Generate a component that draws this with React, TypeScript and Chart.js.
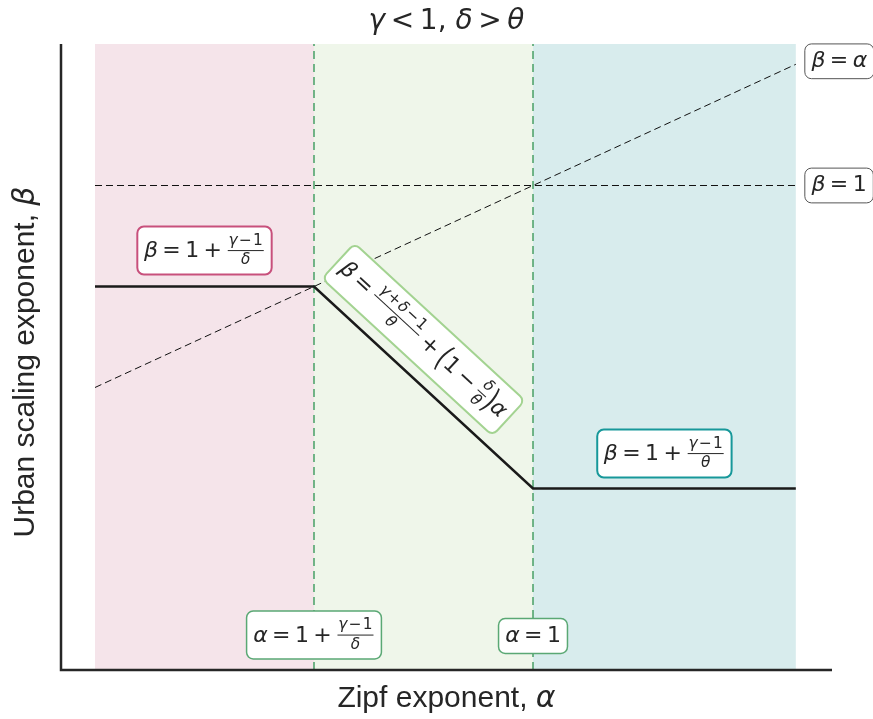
import { useEffect, useRef } from 'react';
import { Chart, registerables } from 'chart.js';

Chart.register(...registerables);

// Piecewise urban scaling exponent beta as a function of the Zipf exponent alpha
const alphaKnots = [0, 0.5, 1, 1.6];
const betaPiecewise = [0.5, 0.5, -0.5, -0.5];

// Reference lines: beta = alpha and beta = 1
const identityAlpha = [0, 1.6];
const identityBeta = [0, 1.6];
const unityAlpha = [0, 1.6];
const unityBeta = [1, 1];

// Regime boundaries (alpha = 1 + (gamma-1)/delta and alpha = 1)
const thresholdAlphas = [0.5, 1];
const regionEdges = [0, 0.5, 1, 1.6];
const regionColors = ['#f5e4ea', '#eff6ea', '#d8eced'];

const X_MIN = -0.0776;
const X_MAX = 1.6826;
const Y_MIN = -1.3985;
const Y_MAX = 1.7005;

const INK = '#262626';
const MATH = '"DejaVu Sans"';
const SANS = '"Liberation Sans", Arial, sans-serif';

type Tok =
  | { k: 't'; s: string; it?: boolean }
  | { k: 'op'; s: string }
  | { k: 'frac'; n: Tok[]; d: Tok[] }
  | { k: 'paren'; s: string; scale: number };

const T = (s: string, it = false): Tok => ({ k: 't', s, it });
const OP = (s: string): Tok => ({ k: 'op', s });
const FR = (n: Tok[], d: Tok[]): Tok => ({ k: 'frac', n, d });
const PA = (s: string, scale: number): Tok => ({ k: 'paren', s, scale });

const mfont = (size: number, it: boolean) => `${it ? 'italic ' : ''}${size}px ${MATH}`;

// Lays out (and optionally paints) a tiny subset of math: runs, operators, fractions, tall parens
function mathRun(
  ctx: CanvasRenderingContext2D,
  toks: Tok[],
  size: number,
  x0: number,
  base: number,
  draw: boolean,
  script = false
): { w: number; asc: number; desc: number } {
  let x = x0;
  let asc = 0.76 * size;
  let desc = 0.22 * size;
  for (const t of toks) {
    if (t.k === 't') {
      ctx.font = mfont(size, !!t.it);
      const w = ctx.measureText(t.s).width;
      if (draw) ctx.fillText(t.s, x, base);
      x += w;
    } else if (t.k === 'op') {
      const sp = (script ? 0.08 : 0.2) * size;
      ctx.font = mfont(size, false);
      const w = ctx.measureText(t.s).width;
      if (draw) ctx.fillText(t.s, x + sp, base);
      x += w + 2 * sp;
    } else if (t.k === 'frac') {
      const s2 = size * 0.7;
      const n = mathRun(ctx, t.n, s2, 0, 0, false, true);
      const d = mathRun(ctx, t.d, s2, 0, 0, false, true);
      const pad = 0.06 * size;
      const bw = Math.max(n.w, d.w) + 0.08 * size;
      const barY = base - 0.3 * size;
      const th = Math.max(1, 0.045 * size);
      const nb = barY - th / 2 - 0.08 * size - n.desc;
      const db = barY + th / 2 + 0.1 * size + d.asc * 0.95;
      if (draw) {
        mathRun(ctx, t.n, s2, x + pad + (bw - n.w) / 2, nb, true, true);
        mathRun(ctx, t.d, s2, x + pad + (bw - d.w) / 2, db, true, true);
        ctx.fillRect(x + pad, barY - th / 2, bw, th);
      }
      asc = Math.max(asc, base - nb + n.asc);
      desc = Math.max(desc, db + d.desc - base);
      x += bw + 2 * pad;
    } else {
      ctx.font = mfont(size, false);
      const w = ctx.measureText(t.s).width;
      const axis = 0.3 * size;
      if (draw) {
        ctx.save();
        ctx.translate(x, base - axis);
        ctx.scale(1, t.scale);
        ctx.fillText(t.s, 0, axis);
        ctx.restore();
      }
      asc = Math.max(asc, axis + 0.48 * size * t.scale);
      desc = Math.max(desc, 0.48 * size * t.scale - axis);
      x += w;
    }
  }
  return { w: x - x0, asc, desc };
}

function roundRectPath(ctx: CanvasRenderingContext2D, x: number, y: number, w: number, h: number, r: number) {
  ctx.beginPath();
  ctx.moveTo(x + r, y);
  ctx.arcTo(x + w, y, x + w, y + h, r);
  ctx.arcTo(x + w, y + h, x, y + h, r);
  ctx.arcTo(x, y + h, x, y, r);
  ctx.arcTo(x, y, x + w, y, r);
  ctx.closePath();
}

function mathBox(
  ctx: CanvasRenderingContext2D,
  toks: Tok[],
  size: number,
  ax: number,
  cy: number,
  opts: { angle?: number; edge: string; lw: number; leftAligned?: boolean }
) {
  const m = mathRun(ctx, toks, size, 0, 0, false);
  const pad = 0.3 * size;
  const w = m.w + 2 * pad;
  const h = m.asc + m.desc + 2 * pad;
  const cx = opts.leftAligned ? ax + w / 2 : ax;
  ctx.save();
  ctx.translate(cx, cy);
  if (opts.angle) ctx.rotate(opts.angle);
  roundRectPath(ctx, -w / 2, -h / 2, w, h, pad);
  ctx.fillStyle = '#ffffff';
  ctx.fill();
  ctx.lineWidth = opts.lw;
  ctx.strokeStyle = opts.edge;
  ctx.stroke();
  ctx.fillStyle = INK;
  ctx.textBaseline = 'alphabetic';
  ctx.textAlign = 'left';
  mathRun(ctx, toks, size, -m.w / 2, (m.asc - m.desc) / 2, true);
  ctx.restore();
}

function mixedText(
  ctx: CanvasRenderingContext2D,
  parts: { s: string; f: string }[],
  cx: number,
  base: number
) {
  let total = 0;
  for (const p of parts) {
    ctx.font = p.f;
    total += ctx.measureText(p.s).width;
  }
  let x = cx - total / 2;
  for (const p of parts) {
    ctx.font = p.f;
    ctx.fillText(p.s, x, base);
    x += ctx.measureText(p.s).width;
  }
}

const G = 'γ';
const frac1 = (den: string) => FR([T(G, true), OP('−'), T('1')], [T(den, true)]);

const regionShading = {
  id: 'regionShading',
  beforeDatasetsDraw(chart: any) {
    const { ctx, chartArea, scales } = chart;
    ctx.save();
    for (let i = 0; i < regionColors.length; i++) {
      const x0 = scales.x.getPixelForValue(regionEdges[i]);
      const x1 = scales.x.getPixelForValue(regionEdges[i + 1]);
      ctx.fillStyle = regionColors[i];
      ctx.fillRect(x0, chartArea.top, x1 - x0, chartArea.bottom - chartArea.top);
    }
    ctx.restore();
  },
};

const annotations = {
  id: 'annotations',
  afterDraw(chart: any) {
    const { ctx, chartArea, scales } = chart;
    const px = (a: number) => scales.x.getPixelForValue(a);
    const py = (b: number) => scales.y.getPixelForValue(b);
    const S = 22;

    ctx.save();
    // spines
    ctx.strokeStyle = INK;
    ctx.lineWidth = 2.5;
    ctx.beginPath();
    ctx.moveTo(chartArea.left, chartArea.top);
    ctx.lineTo(chartArea.left, chartArea.bottom);
    ctx.lineTo(chartArea.right, chartArea.bottom);
    ctx.stroke();

    // regime formulas
    const mid1 = (regionEdges[0] + regionEdges[1]) / 2;
    mathBox(ctx, [T('β', true), OP('='), T('1'), OP('+'), frac1('δ')], S, px(mid1), py(betaPiecewise[0]) - 36, {
      edge: '#c8507c',
      lw: 2,
    });
    const mid3 = (regionEdges[2] + regionEdges[3]) / 2;
    mathBox(ctx, [T('β', true), OP('='), T('1'), OP('+'), frac1('θ')], S, px(mid3), py(betaPiecewise[3]) - 35, {
      edge: '#17989a',
      lw: 2,
    });
    // middle regime: label runs along the falling segment
    const mid2 = (regionEdges[1] + regionEdges[2]) / 2;
    const xa = px(alphaKnots[1]);
    const ya = py(betaPiecewise[1]);
    const xb = px(alphaKnots[2]);
    const yb = py(betaPiecewise[2]);
    const ang = Math.atan2(yb - ya, xb - xa);
    const midY = py((betaPiecewise[1] + betaPiecewise[2]) / 2);
    mathBox(
      ctx,
      [
        T('β', true),
        OP('='),
        FR([T(G, true), OP('+'), T('δ', true), OP('−'), T('1')], [T('θ', true)]),
        OP('+'),
        PA('(', 1.5),
        T('1'),
        OP('−'),
        FR([T('δ', true)], [T('θ', true)]),
        PA(')', 1.5),
        T('α', true),
      ],
      S,
      px(mid2),
      midY - 48,
      { angle: ang, edge: '#a3d391', lw: 2 }
    );

    // reference-line tags
    mathBox(ctx, [T('β', true), OP('='), T('α', true)], S, px(identityAlpha[1]) + 9, py(identityBeta[1]) - 3, {
      edge: '#555555',
      lw: 1,
      leftAligned: true,
    });
    mathBox(ctx, [T('β', true), OP('='), T('1')], S, px(unityAlpha[1]) + 9, py(unityBeta[1]), {
      edge: '#555555',
      lw: 1,
      leftAligned: true,
    });

    // threshold tags
    const tagY = chartArea.bottom - 35;
    mathBox(ctx, [T('α', true), OP('='), T('1'), OP('+'), frac1('δ')], S, px(thresholdAlphas[0]), tagY, {
      edge: '#5aa874',
      lw: 1.5,
    });
    mathBox(ctx, [T('α', true), OP('='), T('1')], S, px(thresholdAlphas[1]), tagY + 1, {
      edge: '#5aa874',
      lw: 1.5,
    });

    // title and axis titles
    ctx.fillStyle = INK;
    ctx.textAlign = 'left';
    ctx.textBaseline = 'alphabetic';
    const cxArea = (chartArea.left + chartArea.right) / 2;
    const titleToks = [T(G, true), OP('<'), T('1,'), T(' '), T('δ', true), OP('>'), T('θ', true)];
    const tm = mathRun(ctx, titleToks, 28, 0, 0, false);
    mathRun(ctx, titleToks, 28, cxArea - tm.w / 2, 29, true);

    mixedText(
      ctx,
      [
        { s: 'Zipf exponent, ', f: `30px ${SANS}` },
        { s: 'α', f: `italic 30px ${MATH}` },
      ],
      cxArea,
      707
    );

    ctx.save();
    ctx.translate(34, (chartArea.top + chartArea.bottom) / 2 + 5);
    ctx.rotate(-Math.PI / 2);
    mixedText(
      ctx,
      [
        { s: 'Urban scaling exponent, ', f: `30px ${SANS}` },
        { s: 'β', f: `italic 30px ${MATH}` },
      ],
      0,
      0
    );
    ctx.restore();
    ctx.restore();
  },
};

const pts = (xs: number[], ys: number[]) => xs.map((x, i) => ({ x, y: ys[i] }));

export default function App() {
  const ref = useRef<HTMLCanvasElement>(null);

  useEffect(() => {
    if (!ref.current) return;
    const dashedThreshold = (a: number) => ({
      data: pts([a, a], [Y_MIN, Y_MAX]),
      borderColor: '#52a56e',
      borderWidth: 1.6,
      borderDash: [8, 5],
      showLine: true,
      pointRadius: 0,
    });
    const chart = new Chart(ref.current, {
      type: 'scatter',
      data: {
        datasets: [
          {
            data: pts(alphaKnots, betaPiecewise),
            borderColor: '#1a1a1a',
            borderWidth: 2.5,
            showLine: true,
            pointRadius: 0,
          },
          {
            data: pts(identityAlpha, identityBeta),
            borderColor: '#111111',
            borderWidth: 1,
            borderDash: [7, 4],
            showLine: true,
            pointRadius: 0,
          },
          {
            data: pts(unityAlpha, unityBeta),
            borderColor: '#111111',
            borderWidth: 1,
            borderDash: [7, 4],
            showLine: true,
            pointRadius: 0,
          },
          ...thresholdAlphas.map(dashedThreshold),
        ],
      },
      options: {
        responsive: false,
        devicePixelRatio: 1,
        animation: false,
        layout: { padding: { left: 61, top: 44, right: 41, bottom: 49 } },
        plugins: { legend: { display: false }, tooltip: { enabled: false }, title: { display: false } },
        scales: {
          x: { type: 'linear', min: X_MIN, max: X_MAX, display: false },
          y: { type: 'linear', min: Y_MIN, max: Y_MAX, display: false },
        },
      },
      plugins: [regionShading, annotations],
    });
    return () => chart.destroy();
  }, []);

  return (
    <div style={{ position: 'absolute', left: 0, top: 0, width: 873, height: 719 }}>
      <canvas ref={ref} width={873} height={719} style={{ display: 'block', width: 873, height: 719 }} />
    </div>
  );
}
